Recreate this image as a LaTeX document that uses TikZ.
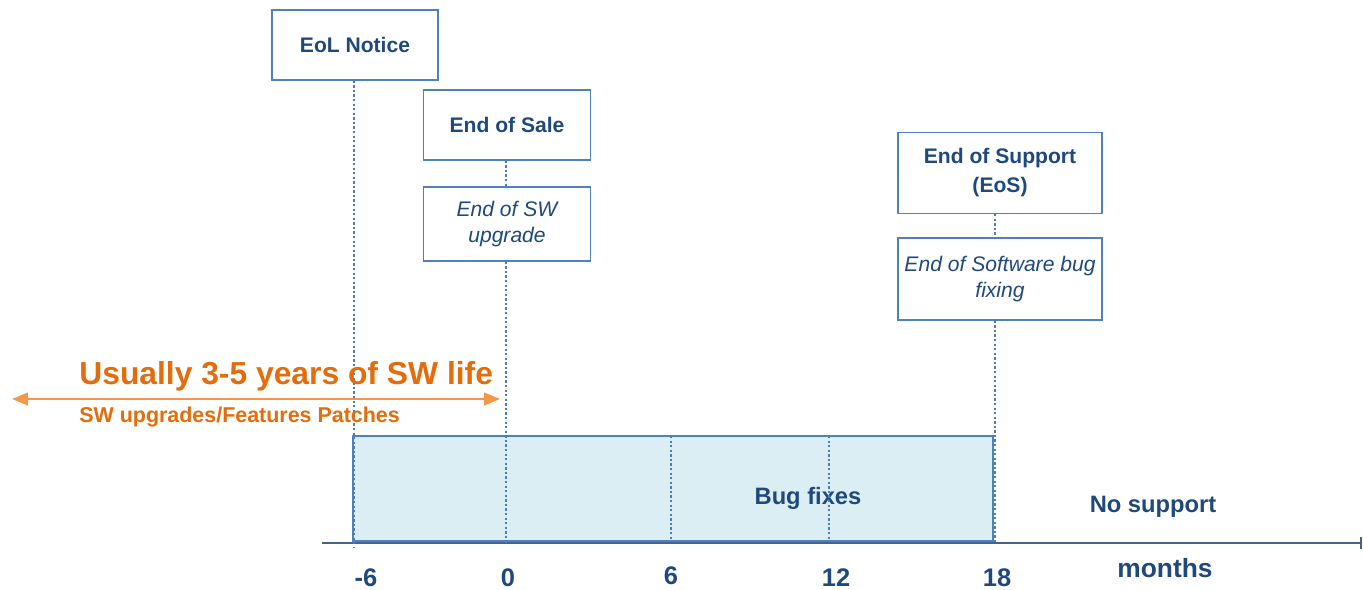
\documentclass[tikz,border=0pt]{standalone}
\usepackage{fontspec}
\setmainfont{Liberation Sans}
\usetikzlibrary{arrows.meta, positioning}
\definecolor{navy}{HTML}{1F497D}
\definecolor{frame}{HTML}{4F81BD}
\definecolor{dots}{HTML}{4A7EBB}
\definecolor{paleblue}{HTML}{DAEEF3}
\definecolor{orangetxt}{HTML}{E46C0A}
\definecolor{orangeln}{HTML}{F79646}
\tikzset{
  box/.style     = {draw=frame, line width=0.8pt, fill=white, align=center,
                    text=navy, font=\fontsize{12}{14}\selectfont\bfseries,
                    inner sep=2pt},
  notebox/.style = {box, font=\fontsize{12}{14.5}\selectfont\itshape},
  dotline/.style = {draw=dots, line width=1pt, dash pattern=on 1.3pt off 1.3pt},
  axis/.style    = {draw=navy!85, line width=1.5pt, -{Bar[width=7pt, line width=1pt]}},
  lifearr/.style = {draw=orangeln, line width=1.4pt,
                    {Triangle[length=9pt, width=7pt]}-{Triangle[length=9pt, width=7pt]}},
  lbl/.style     = {text=navy, font=\fontsize{13.5}{16}\selectfont\bfseries},
  tick/.style    = {lbl, anchor=base, inner sep=0pt,
                    font=\fontsize{14.5}{17}\selectfont\bfseries}
}

\begin{document}
\begin{tikzpicture}[x=0.2mm, y=-0.2mm]
  \useasboundingbox (0,0) rectangle (1363,590);

  % ── Bug-fix window ───────────────────────────────────────────────────────
  \fill[paleblue] (353,436) rectangle (993,541);
  \draw[frame, line width=0.8pt] (353,436) rectangle (993,541);
  \draw[frame, line width=1.5pt] (993,436) -- (993,541);
  \node[lbl] (bugfix) at (808,498) {Bug fixes};
  \node[lbl] (nosup)  at (1153,507) {No support};

  % ── Milestones ───────────────────────────────────────────────────────────
  \node[box, minimum width=3.32cm, minimum height=1.4cm]  (eol)     at (355,45)  {EoL Notice};
  \node[box, minimum width=3.34cm, minimum height=1.4cm]  (sale)    at (507,125) {End of Sale};
  \node[notebox, minimum width=3.34cm, minimum height=1.48cm] (swup) at (507,224) {End of SW\\upgrade};
  \node[box, minimum width=4.08cm, minimum height=1.62cm, font=\fontsize{12}{16.5}\selectfont\bfseries]
        (support) at (1000,173) {End of Support\\(EoS)};
  \node[notebox, minimum width=4.08cm, minimum height=1.64cm] (bugend) at (1000,279)
        {End of Software bug\\fixing};

  % ── Time axis ────────────────────────────────────────────────────────────
  \coordinate (axL) at (322,543);
  \coordinate (axR) at (1362,543);
  \coordinate (tm6) at (354,548);
  \coordinate (t0)  at (506,543);
  \coordinate (t6)  at (671,541);
  \coordinate (t12) at (829,541);
  \coordinate (t18) at (995,543);
  \draw[axis] (axL) -- (axR);

  \node[tick] (lm6) at (366,586) {-6};
  \node[tick] (l0)  at (508,586) {0};
  \node[tick] (l6)  at (671,584) {6};
  \node[tick] (l12) at (836,586) {12};
  \node[tick] (l18) at (997,586) {18};
  \node[tick, font=\fontsize{15}{18}\selectfont\bfseries] (lmo) at (1165,577) {months};

  % ── Dotted drop lines ────────────────────────────────────────────────────
  \draw[dotline] (eol.south -| tm6) -- (tm6);
  \draw[dotline] (sale.south -| t0) -- (swup.north -| t0);
  \draw[dotline] (swup.south -| t0) -- (t0);
  \draw[dotline] (support.south -| t18) -- (bugend.north -| t18);
  \draw[dotline] (bugend.south -| t18) -- (t18);
  \draw[dotline] (t6 |- 0,436) -- (t6);
  \draw[dotline] (t12 |- 0,436) -- (t12);

  % ── SW life span ─────────────────────────────────────────────────────────
  \coordinate (lifeL) at (12,399);
  \coordinate (lifeR) at (500,399);
  \draw[lifearr] (lifeL) -- (lifeR);
  \node[text=orangetxt, font=\fontsize{18.1}{22}\selectfont\bfseries, anchor=west, inner sep=0pt]
        (life) at (79,376) {Usually 3-5 years of SW life};
  \node[text=orangetxt, font=\fontsize{12.2}{14}\selectfont\bfseries, anchor=west, inner sep=0pt]
        (patch) at (79,417) {SW upgrades/Features Patches};
\end{tikzpicture}
\end{document}
